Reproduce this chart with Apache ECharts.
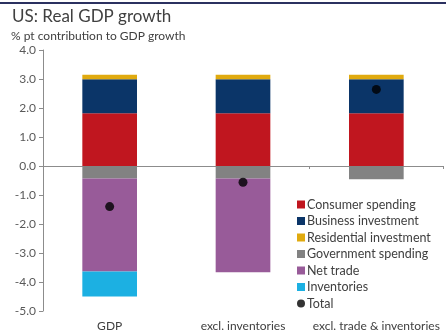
<!DOCTYPE html>
<html><head><meta charset="utf-8">
<script src="https://cdn.jsdelivr.net/npm/echarts@6/dist/echarts.min.js"></script>
<style>html,body{margin:0;padding:0;background:#fff}#c{width:446px;height:334px}</style>
</head><body><div id="c"></div>
<script>
var categories = ['GDP', 'excl. inventories', 'excl. trade & inventories'];
var consumer = [1.82, 1.82, 1.82];
var business = [1.17, 1.17, 1.17];
var residential = [0.16, 0.16, 0.16];
var government = [-0.43, -0.43, -0.46];
var netTrade = [-3.21, -3.23, 0];
var inventories = [-0.86, 0, 0];
var total = [-1.40, -0.56, 2.64];
var yTicks = [-5, -4, -3, -2, -1, 0, 1, 2, 3, 4];

var FONT = 'Lato';
var chart = echarts.init(document.getElementById('c'), null, {renderer: 'canvas'});
function bar(name, data, color) {
  return {name: name, type: 'bar', stack: 'a', data: data, barWidth: '41%',
    itemStyle: {color: color}, xAxisIndex: 0, emphasis: {disabled: true}};
}
chart.setOption({
  animation: false,
  textStyle: {fontFamily: FONT},
  graphic: [
    {type: 'rect', shape: {x: 0, y: 2, width: 446, height: 2}, style: {fill: '#2b3160'}},
    {type: 'text', left: 12, top: 8, style: {text: 'US: Real GDP growth', font: '17px Lato', fill: '#404040'}},
    {type: 'text', left: 11, top: 30, style: {text: '% pt contribution to GDP growth', font: '12px Lato', fill: '#404040'}}
  ],
  grid: {left: 43, right: 3, top: 50, bottom: 23, containLabel: false},
  legend: {
    orient: 'vertical', left: 297, top: 198, padding: 0, itemWidth: 8, itemHeight: 8, itemGap: 3.5,
    textStyle: {fontSize: 12.5, color: '#404040', fontFamily: FONT, padding: [0, 0, 0, -3]},
    data: [
      {name: 'Consumer spending', icon: 'rect'},
      {name: 'Business investment', icon: 'rect'},
      {name: 'Residential investment', icon: 'rect'},
      {name: 'Government spending', icon: 'rect'},
      {name: 'Net trade', icon: 'rect'},
      {name: 'Inventories', icon: 'rect'},
      {name: 'Total', icon: 'circle'}
    ]
  },
  xAxis: [
    {type: 'category', data: categories, position: 'top',
      axisLine: {onZero: true, lineStyle: {color: '#8c8c8c', width: 1}},
      axisTick: {show: true, length: 3, inside: true, lineStyle: {color: '#8c8c8c'}},
      axisLabel: {show: false}},
    {type: 'category', data: categories, position: 'bottom',
      axisLine: {show: false, onZero: false}, axisTick: {show: false},
      axisLabel: {interval: 0, hideOverlap: false, fontSize: 12, color: '#404040', margin: 9, fontFamily: FONT}}
  ],
  yAxis: {
    type: 'value', min: yTicks[0], max: yTicks[yTicks.length - 1], interval: 1,
    splitLine: {show: false},
    axisLine: {show: true, lineStyle: {color: '#8c8c8c'}},
    axisTick: {show: true, length: 4, lineStyle: {color: '#8c8c8c'}},
    axisLabel: {fontSize: 12, color: '#595959', margin: 7, fontFamily: FONT,
      formatter: function (v) { return v.toFixed(1); }}
  },
  series: [
    bar('Consumer spending', consumer, '#c0161f'),
    bar('Business investment', business, '#0b3568'),
    bar('Residential investment', residential, '#e0aa0f'),
    bar('Government spending', government, '#828282'),
    bar('Net trade', netTrade, '#985b99'),
    bar('Inventories', inventories, '#1cb0e2'),
    {name: 'Total', type: 'scatter', data: total, xAxisIndex: 0, symbolSize: 9,
      itemStyle: {color: '#000'}, z: 10, emphasis: {disabled: true}}
  ]
});
</script></body></html>
